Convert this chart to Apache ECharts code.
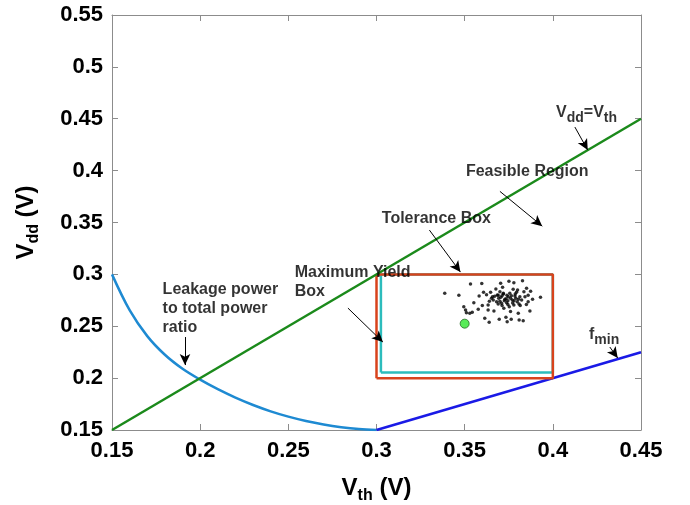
<!DOCTYPE html>
<html>
<head>
<meta charset="utf-8">
<script src="https://cdn.jsdelivr.net/npm/echarts@6/dist/echarts.min.js"></script>
<style>
  html, body { margin: 0; padding: 0; background: #fff; }
  #chart { width: 690px; height: 505px; }
</style>
</head>
<body>
<div id="chart"></div>
<script>
// Supply voltage vs. threshold voltage design space

// Vdd = Vth boundary
const diagX = [0.15, 0.45];
const diagY = [0.15, 0.45];

// Leakage-to-total power ratio constraint
const leakX = [0.15, 0.16, 0.17, 0.18, 0.19, 0.20, 0.21, 0.22, 0.23, 0.24, 0.25, 0.26, 0.27, 0.28, 0.29, 0.30];
const leakY = [0.300, 0.2655, 0.2405, 0.2225, 0.2090, 0.1985, 0.1893, 0.1812, 0.1741, 0.1680, 0.1629, 0.1587, 0.1553, 0.1527, 0.1509, 0.150];

// Minimum frequency constraint
const fminX = [0.30, 0.45];
const fminY = [0.15, 0.225];

// Tolerance box (outer) and maximum yield box (inner)
const tolBoxX = [0.30, 0.30, 0.40, 0.40, 0.30];
const tolBoxY = [0.20, 0.30, 0.30, 0.20, 0.20];
const yieldBoxX = [0.3025, 0.3025, 0.40, 0.40, 0.3025];
const yieldBoxY = [0.2055, 0.30, 0.30, 0.2055, 0.2055];

// Monte Carlo samples of (Vth, Vdd)
const sampleX = [
  0.3387, 0.3467, 0.3533, 0.3597, 0.3495, 0.3505, 0.3510, 0.3529, 0.3543, 0.3552,
  0.3577, 0.3582, 0.3607, 0.3614, 0.3624, 0.3633, 0.3633, 0.3639, 0.3647, 0.3652,
  0.3662, 0.3666, 0.3677, 0.3681, 0.3685, 0.3690, 0.3696, 0.3700, 0.3704, 0.3705,
  0.3709, 0.3715, 0.3719, 0.3722, 0.3728, 0.3734, 0.3738, 0.3741, 0.3747, 0.3751,
  0.3753, 0.3756, 0.3760, 0.3764, 0.3770, 0.3775, 0.3779, 0.3779, 0.3785, 0.3790,
  0.3794, 0.3798, 0.3804, 0.3808, 0.3809, 0.3813, 0.3823, 0.3828, 0.3832, 0.3836,
  0.3842, 0.3851, 0.3860, 0.3870, 0.3874, 0.3885, 0.3930,
  0.3670, 0.3693, 0.3712, 0.3725, 0.3740, 0.3760, 0.3745, 0.3780, 0.3700, 0.3658,
  0.3720, 0.3765, 0.3735, 0.3787, 0.3805, 0.3690, 0.3745, 0.3712, 0.3772, 0.3815,
  0.3640, 0.3800, 0.3860, 0.3600, 0.3850
];
const sampleY = [
  0.2817, 0.2798, 0.2907, 0.2911, 0.2689, 0.2657, 0.2631, 0.2625, 0.2634, 0.2727,
  0.2663, 0.2792, 0.2827, 0.2576, 0.2804, 0.2705, 0.2657, 0.2538, 0.2827, 0.2769,
  0.2753, 0.2647, 0.2859, 0.2737, 0.2801, 0.2714, 0.2567, 0.2833, 0.2914, 0.2779,
  0.2721, 0.2875, 0.2817, 0.2673, 0.2760, 0.2586, 0.2727, 0.2544, 0.2785, 0.2933,
  0.2689, 0.2817, 0.2641, 0.2567, 0.2753, 0.2856, 0.2920, 0.2705, 0.2792, 0.2769,
  0.2827, 0.2737, 0.2625, 0.2714, 0.2560, 0.2785, 0.2753, 0.2939, 0.2554, 0.2833,
  0.2785, 0.2866, 0.2737, 0.2647, 0.2837, 0.2760, 0.2779,
  0.2790, 0.2770, 0.2795, 0.2745, 0.2800, 0.2770, 0.2710, 0.2745, 0.2740, 0.2785,
  0.2810, 0.2795, 0.2765, 0.2810, 0.2760, 0.2800, 0.2745, 0.2700, 0.2725, 0.2700,
  0.2740, 0.2850, 0.2800, 0.2700, 0.2710
];

// Nominal design point
const nominalPoint = [0.35, 0.2525];

// Annotation texts and their anchor points (left edge, vertical middle)
const noteTexts = [
  'V{sub|dd}=V{sub|th}',
  'Feasible Region',
  'Tolerance Box',
  'Maximum Yield\nBox',
  'Leakage power\nto total power\nratio',
  'f{sub|min}'
];
const noteX = [0.4018, 0.3507, 0.3030, 0.2536, 0.1787, 0.4205];
const noteY = [0.4560, 0.3987, 0.3534, 0.2926, 0.2666, 0.2420];

// Annotation arrows: tail -> head
const arrowFrom = [[0.4125, 0.442], [0.370, 0.380], [0.330, 0.3427], [0.2838, 0.2675], [0.1914, 0.2396], [0.4323, 0.230]];
const arrowTo   = [[0.4198, 0.4198], [0.394, 0.3465], [0.3476, 0.3022], [0.3036, 0.2348], [0.1914, 0.2126], [0.4368, 0.2194]];

const FONT = 'Liberation Sans, Arial, Helvetica, sans-serif';
const AXIS_GRAY = '#8c8c8c';

const zip = (xs, ys) => xs.map((x, i) => [x, ys[i]]);
const tickFmt = v => String(+v.toFixed(2));

const chart = echarts.init(document.getElementById('chart'), null, { renderer: 'canvas' });

const baseAxis = {
  type: 'value',
  min: 0.15,
  interval: 0.05,
  axisLine: { show: true, lineStyle: { color: AXIS_GRAY, width: 1 } },
  axisTick: { show: true, inside: true, length: 6, lineStyle: { color: AXIS_GRAY } },
  splitLine: { show: false }
};

const subRich = {
  sub: { fontSize: 14, fontWeight: 'bold', fontFamily: FONT, color: '#000', padding: [12, 0, 0, 0] }
};
const nameRich = {
  sub: { fontSize: 16, fontWeight: 'bold', fontFamily: FONT, color: '#000', padding: [15, 0, 0, 0] }
};
const tickLabel = { fontSize: 22, fontWeight: 'bold', fontFamily: FONT, color: '#000', formatter: tickFmt };

chart.setOption({
  animation: false,
  backgroundColor: '#fff',
  grid: { left: 112, right: 49, top: 15, bottom: 75, containLabel: false, outerBoundsMode: 'none' },
  xAxis: [
    Object.assign({}, baseAxis, {
      max: 0.45,
      position: 'bottom',
      name: 'V{sub|th} (V)',
      nameLocation: 'middle',
      nameGap: 43,
      nameTextStyle: { fontSize: 24, fontWeight: 'bold', fontFamily: FONT, color: '#000', rich: nameRich },
      axisLabel: Object.assign({ margin: 10 }, tickLabel)
    }),
    Object.assign({}, baseAxis, {
      max: 0.45,
      position: 'top',
      axisLabel: { show: false }
    })
  ],
  yAxis: [
    Object.assign({}, baseAxis, {
      max: 0.55,
      position: 'left',
      name: 'V{sub|dd} (V)',
      nameLocation: 'middle',
      nameRotate: 90,
      nameGap: 70,
      nameTextStyle: { fontSize: 24, fontWeight: 'bold', fontFamily: FONT, color: '#000', rich: nameRich },
      axisLabel: Object.assign({ margin: 9 }, tickLabel)
    }),
    Object.assign({}, baseAxis, {
      max: 0.55,
      position: 'right',
      axisLabel: { show: false }
    })
  ],
  series: [
    {
      name: 'Leakage ratio',
      type: 'line',
      data: zip(leakX, leakY),
      smooth: 0.35,
      showSymbol: false,
      lineStyle: { color: '#1e8ad2', width: 2.5 },
      z: 3
    },
    {
      name: 'fmin',
      type: 'line',
      data: zip(fminX, fminY),
      showSymbol: false,
      lineStyle: { color: '#1a1ae6', width: 2.5 },
      z: 3
    },
    {
      name: 'Yield box',
      type: 'line',
      data: zip(yieldBoxX, yieldBoxY),
      showSymbol: false,
      lineStyle: { color: '#2cbcbc', width: 2.5 },
      z: 2
    },
    {
      name: 'Tolerance box',
      type: 'line',
      data: zip(tolBoxX, tolBoxY),
      showSymbol: false,
      lineStyle: { color: '#d8431c', width: 2.5 },
      z: 3
    },
    {
      name: 'Vdd=Vth',
      type: 'line',
      data: zip(diagX, diagY),
      showSymbol: false,
      lineStyle: { color: '#1b8a1b', width: 2.5 },
      z: 4
    },
    {
      name: 'Samples',
      type: 'scatter',
      data: zip(sampleX, sampleY),
      symbol: 'circle',
      symbolSize: 3.5,
      itemStyle: { color: '#000' },
      z: 5
    },
    {
      name: 'Nominal',
      type: 'scatter',
      data: [nominalPoint],
      symbol: 'circle',
      symbolSize: 9,
      itemStyle: { color: '#2ee62e', borderColor: '#1f6b1f', borderWidth: 1 },
      z: 6
    },
    {
      name: 'Notes',
      type: 'scatter',
      data: noteX.map((x, i) => ({ value: [x, noteY[i]], text: noteTexts[i] })),
      symbolSize: 0,
      silent: true,
      z: 10,
      label: {
        show: true,
        position: 'right',
        distance: 0,
        align: 'left',
        verticalAlign: 'middle',
        formatter: p => p.data.text,
        fontSize: 16,
        fontWeight: 'bold',
        fontFamily: FONT,
        color: '#000',
        lineHeight: 19,
        rich: subRich
      },
      markLine: {
        silent: true,
        symbol: ['none', 'arrow'],
        symbolSize: [8, 11],
        label: { show: false },
        lineStyle: { color: '#000', width: 1, type: 'solid' },
        data: arrowFrom.map((a, i) => [{ coord: a }, { coord: arrowTo[i] }])
      }
    }
  ]
});
</script>
</body>
</html>
